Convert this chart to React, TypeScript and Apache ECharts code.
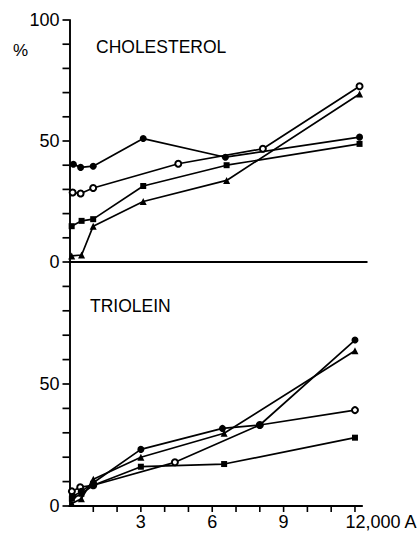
import React, { useEffect, useRef } from "react";
import * as echarts from "echarts";

const FONT = "'Liberation Sans', Arial, Helvetica, sans-serif";

// x positions in Å, y values in %
// CHOLESTEROL panel
const cholCircleX = [160, 460, 980, 3050, 6450, 12000];
const cholCircleY = [40.4, 39.1, 39.6, 51, 43.3, 51.6];
const cholOpenX = [130, 460, 980, 4500, 8000, 12000];
const cholOpenY = [28.7, 28.3, 30.6, 40.6, 46.8, 72.6];
const cholSquareX = [90, 500, 980, 3050, 6500, 12000];
const cholSquareY = [14.8, 17.0, 17.7, 31.4, 40, 48.8];
const cholTriangleX = [90, 500, 980, 3050, 6500, 12000];
const cholTriangleY = [2.5, 2.9, 14.8, 25, 33.7, 69.4];

// TRIOLEIN panel
const trioCircleX = [150, 500, 1000, 3000, 6430, 8000, 12000];
const trioCircleY = [4, 6, 9.5, 23.2, 31.8, 33.2, 68];
const trioOpenX = [100, 450, 1000, 4430, 8000, 12000];
const trioOpenY = [6, 7.7, 8.5, 17.9, 33.2, 39.3];
const trioSquareX = [100, 500, 1000, 3000, 6500, 12000];
const trioSquareY = [3, 5, 8.5, 16.1, 17.2, 28];
const trioTriangleX = [100, 500, 1000, 3000, 6500, 12000];
const trioTriangleY = [1, 3, 11, 20, 29.8, 63.6];

// ticks and tick labels
const xTicks = [1000, 2000, 3000, 4000, 5000, 6000, 7000, 8000, 9000, 10000, 11000, 12000];
const xLabels = [3000, 6000, 9000, 12000];
const yTicksTop = [0, 10, 20, 30, 40, 50, 60, 70, 80, 90, 100];
const yLabelsTop = [0, 50, 100];
const yTicksBottom = [0, 10, 20, 30, 40, 50, 60, 70, 80, 90];
const yLabelsBottom = [0, 50];

const zip = (xs: number[], ys: number[]) => xs.map((x, i) => [x, ys[i]]);

const App: React.FC = () => {
  const ref = useRef<HTMLDivElement>(null);

  useEffect(() => {
    if (!ref.current) return;
    const chart = echarts.init(ref.current, undefined, { renderer: "svg" });

    const lineStyle = { color: "#000", width: 1.7 };
    const mk = (
      name: string,
      data: number[][],
      symbol: string,
      size: number,
      idx: number
    ) => ({
      name,
      type: "line",
      xAxisIndex: idx,
      yAxisIndex: idx,
      data,
      symbol,
      symbolSize: size,
      showAllSymbol: true,
      clip: false,
      lineStyle,
      itemStyle: { color: "#000", borderColor: "#000", borderWidth: symbol === "emptyCircle" ? 1.4 : 0 },
      emphasis: { disabled: true },
      z: 3,
    });

    // y tick marks drawn through the axis scale (filled thin rects left of x = 0)
    const yTickSeries = (idx: number, ticks: number[]) => ({
      type: "custom",
      xAxisIndex: idx,
      yAxisIndex: idx,
      data: ticks.map((v) => [6000, v]),
      clip: false,
      silent: true,
      z: 2,
      renderItem: (_p: any, api: any) => {
        const pt = api.coord([0, api.value(1)]);
        return {
          type: "rect",
          shape: { x: pt[0] - 7, y: pt[1] - 0.85, width: 7, height: 1.7 },
          style: { fill: "#000" },
        };
      },
    });

    // x tick marks drawn through the axis scale
    const xTickSeries = (idx: number, ticks: number[]) => ({
      type: "custom",
      xAxisIndex: idx,
      yAxisIndex: idx,
      data: ticks.map((v) => [v, 50]),
      clip: false,
      silent: true,
      z: 2,
      renderItem: (_p: any, api: any) => {
        const pt = api.coord([api.value(0), 0]);
        return {
          type: "line",
          shape: { x1: pt[0], y1: pt[1], x2: pt[0], y2: pt[1] + 6 },
          style: { stroke: "#000", lineWidth: 1.6 },
        };
      },
    });

    const labelStyle = { color: "#000", fontSize: 18, fontFamily: FONT };
    const mkLine = () => ({ show: true, onZero: false, lineStyle: { color: "#000", width: 1.9 } });

    chart.setOption({
      animation: false,
      backgroundColor: "#fff",
      grid: [
        { left: 69.5, top: 20, width: 297.3, height: 242 },
        { left: 69.5, top: 262, width: 297.3, height: 244 },
      ],
      xAxis: [
        {
          gridIndex: 0,
          type: "value",
          min: 0,
          max: 12300,
          interval: 1000,
          axisLine: mkLine(),
          axisTick: { show: false },
          axisLabel: { show: false },
          splitLine: { show: false },
        },
        {
          gridIndex: 1,
          type: "value",
          min: 0,
          max: 12300,
          interval: 1000,
          axisLine: mkLine(),
          axisTick: { show: false },
          axisLabel: {
            ...labelStyle,
            margin: 7,
            formatter: (v: number) =>
              v === 12000
                ? "{e|12,000 A}"
                : xLabels.includes(v)
                ? String(v / 1000)
                : "",
            rich: {
              e: { ...labelStyle, padding: [0, 0, 0, 52] },
            },
          },
          splitLine: { show: false },
        },
      ],
      yAxis: [
        {
          gridIndex: 0,
          type: "value",
          min: 0,
          max: 100,
          interval: 10,
          axisLine: mkLine(),
          axisTick: { show: false },
          axisLabel: {
            ...labelStyle,
            margin: 10,
            formatter: (v: number) => (yLabelsTop.includes(v) ? String(v) : ""),
          },
          splitLine: { show: false },
        },
        {
          gridIndex: 1,
          type: "value",
          min: 0,
          max: 100,
          interval: 10,
          axisLine: mkLine(),
          axisTick: { show: false },
          axisLabel: {
            ...labelStyle,
            margin: 10,
            formatter: (v: number) => (yLabelsBottom.includes(v) ? String(v) : ""),
          },
          splitLine: { show: false },
        },
      ],
      graphic: [
        {
          type: "text",
          left: 13,
          top: 42,
          style: { text: "%", fill: "#000", font: `17px ${FONT}` },
        },
        {
          type: "text",
          left: 96,
          top: 38,
          style: { text: "CHOLESTEROL", fill: "#000", font: `17.5px ${FONT}` },
        },
        {
          type: "text",
          left: 90,
          top: 297,
          style: { text: "TRIOLEIN", fill: "#000", font: `17.5px ${FONT}` },
        },
      ],
      series: [
        yTickSeries(0, yTicksTop),
        yTickSeries(1, yTicksBottom),
        xTickSeries(1, xTicks),
        mk("chol-circle", zip(cholCircleX, cholCircleY), "circle", 7, 0),
        mk("chol-open", zip(cholOpenX, cholOpenY), "emptyCircle", 6, 0),
        mk("chol-square", zip(cholSquareX, cholSquareY), "rect", 6, 0),
        mk("chol-triangle", zip(cholTriangleX, cholTriangleY), "triangle", 7, 0),
        mk("trio-open", zip(trioOpenX, trioOpenY), "emptyCircle", 6, 1),
        mk("trio-circle", zip(trioCircleX, trioCircleY), "circle", 7, 1),
        mk("trio-square", zip(trioSquareX, trioSquareY), "rect", 6, 1),
        mk("trio-triangle", zip(trioTriangleX, trioTriangleY), "triangle", 7, 1),
      ],
    });

    return () => chart.dispose();
  }, []);

  return (
    <div
      ref={ref}
      style={{ position: "fixed", left: 0, top: 0, width: 420, height: 534, background: "#fff" }}
    />
  );
};

export default App;
